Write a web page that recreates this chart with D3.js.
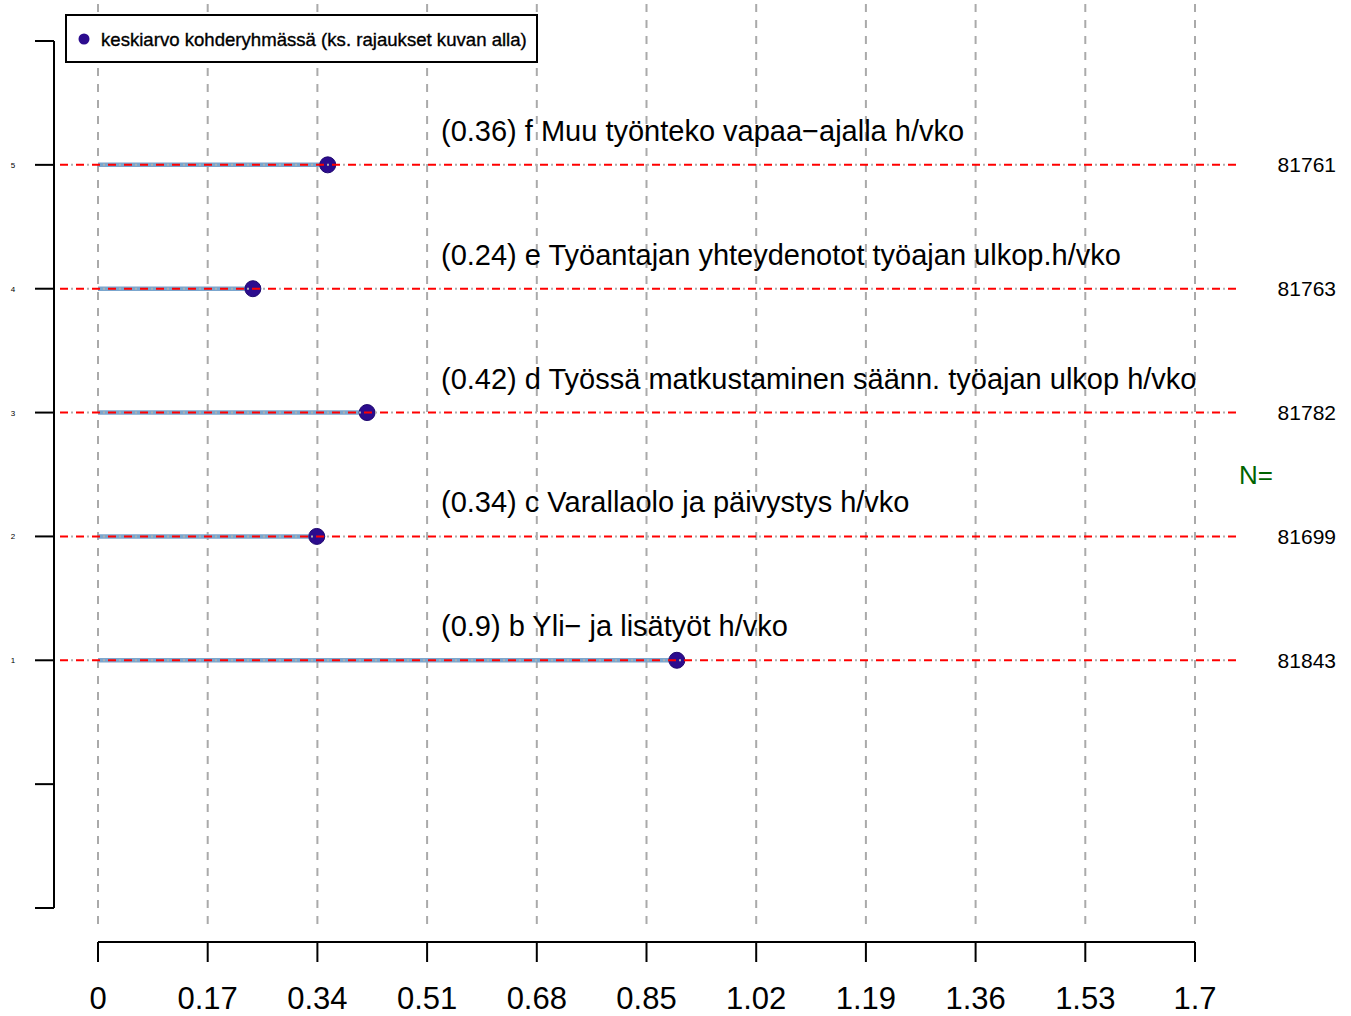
<!DOCTYPE html>
<html><head><meta charset="utf-8">
<script src="https://cdn.jsdelivr.net/npm/d3@7"></script>
<style>body{margin:0;background:#fff}svg{display:block}text{font-family:"Liberation Sans",Arial,sans-serif}</style>
</head><body>
<script>
const positions = [1, 2, 3, 4, 5];
const values = [0.897, 0.339, 0.417, 0.240, 0.356];
const labels = ["b Yli\u2212 ja lisätyöt h/vko", "c Varallaolo ja päivystys h/vko",
  "d Työssä matkustaminen säänn. työajan ulkop h/vko", "e Työantajan yhteydenotot työajan ulkop.h/vko",
  "f Muu työnteko vapaa\u2212ajalla h/vko"];
const nValues = ["81843", "81699", "81782", "81763", "81761"];
const xTicks = [0, 0.17, 0.34, 0.51, 0.68, 0.85, 1.02, 1.19, 1.36, 1.53, 1.7];
const yTicks = [-1, 0, 1, 2, 3, 4, 5, 6];
const yTickLabels = ["", "", "1", "2", "3", "4", "5", ""];
const legendText = "keskiarvo kohderyhmässä (ks. rajaukset kuvan alla)";

const W = 1351, H = 1016;
const svg = d3.select("body").append("svg").attr("width", W).attr("height", H);
const x = d3.scaleLinear().domain([0, 1.7]).range([98, 1195]);
const y = d3.scaleLinear().domain([-1, 6]).range([908, 41]);

// vertical grey grid
svg.append("g").selectAll("line").data(xTicks).join("line")
  .attr("x1", d => x(d)).attr("x2", d => x(d)).attr("y1", 4).attr("y2", 932)
  .attr("stroke", "#aaaaaa").attr("stroke-width", 2).attr("stroke-dasharray", "8,8");

// bars
svg.append("g").selectAll("line").data(positions).join("line")
  .attr("x1", x(0)).attr("x2", (d, i) => x(values[i]))
  .attr("y1", d => y(d)).attr("y2", d => y(d))
  .attr("stroke", "#7ba6ce").attr("stroke-width", 4.5);

// dots
svg.append("g").selectAll("circle").data(positions).join("circle")
  .attr("cx", (d, i) => x(values[i])).attr("cy", d => y(d)).attr("r", 8)
  .attr("fill", "#2c0c8e").attr("stroke", "#1f0870").attr("stroke-width", 1);

// red reference lines (grey dots under red dashes)
const hl = svg.append("g");
hl.selectAll("line.g").data(positions).join("line").attr("class", "g")
  .attr("x1", 60).attr("x2", 1238).attr("y1", d => y(d)).attr("y2", d => y(d))
  .attr("stroke", "#b0b0b0").attr("stroke-width", 2).attr("stroke-dasharray", "2,14").attr("stroke-dashoffset", -11);
hl.selectAll("line.r").data(positions).join("line").attr("class", "r")
  .attr("x1", 60).attr("x2", 1238).attr("y1", d => y(d)).attr("y2", d => y(d))
  .attr("stroke", "#ff0000").attr("stroke-width", 2).attr("stroke-dasharray", "8,8");

// labels
svg.append("g").selectAll("text").data(positions).join("text")
  .attr("x", 441).attr("y", d => y(d) - 24)
  .attr("font-size", 29).attr("fill", "#000")
  .text((d, i) => "(" + (+values[i].toFixed(2)) + ") " + labels[i]);

// N values
svg.append("g").selectAll("text").data(positions).join("text")
  .attr("x", 1336).attr("y", d => y(d) + 7.5).attr("text-anchor", "end")
  .attr("font-size", 21).text((d, i) => nValues[i]);
svg.append("text").attr("x", 1239).attr("y", 484).attr("font-size", 26)
  .attr("fill", "#006400").text("N=");

// y axis
const ya = svg.append("g");
ya.append("line").attr("x1", 54).attr("x2", 54).attr("y1", y(6)).attr("y2", y(-1))
  .attr("stroke", "#000").attr("stroke-width", 2);
ya.selectAll("line.t").data(yTicks).join("line").attr("class", "t")
  .attr("x1", 35).attr("x2", 54).attr("y1", d => y(d)).attr("y2", d => y(d))
  .attr("stroke", "#000").attr("stroke-width", 2);
ya.selectAll("text").data(yTicks).join("text")
  .attr("x", 13).attr("y", d => y(d) + 3).attr("text-anchor", "middle")
  .attr("font-size", 8).text((d, i) => yTickLabels[i]);

// x axis
const xa = svg.append("g");
xa.append("line").attr("x1", x(0)).attr("x2", x(1.7)).attr("y1", 942).attr("y2", 942)
  .attr("stroke", "#000").attr("stroke-width", 2);
xa.selectAll("line.t").data(xTicks).join("line").attr("class", "t")
  .attr("x1", d => x(d)).attr("x2", d => x(d)).attr("y1", 942).attr("y2", 962)
  .attr("stroke", "#000").attr("stroke-width", 2);
xa.selectAll("text").data(xTicks).join("text")
  .attr("x", d => x(d)).attr("y", 1009).attr("text-anchor", "middle")
  .attr("font-size", 31).text(d => String(d));

// legend
const lg = svg.append("g");
lg.append("rect").attr("x", 66).attr("y", 15).attr("width", 471).attr("height", 47)
  .attr("fill", "#fff").attr("stroke", "#000").attr("stroke-width", 2);
lg.append("circle").attr("cx", 84).attr("cy", 39).attr("r", 5.5).attr("fill", "#2c0c8e");
lg.append("text").attr("x", 101).attr("y", 46).attr("font-size", 18.6)
  .attr("stroke", "#000").attr("stroke-width", 0.35).text(legendText);
</script>
</body></html>
